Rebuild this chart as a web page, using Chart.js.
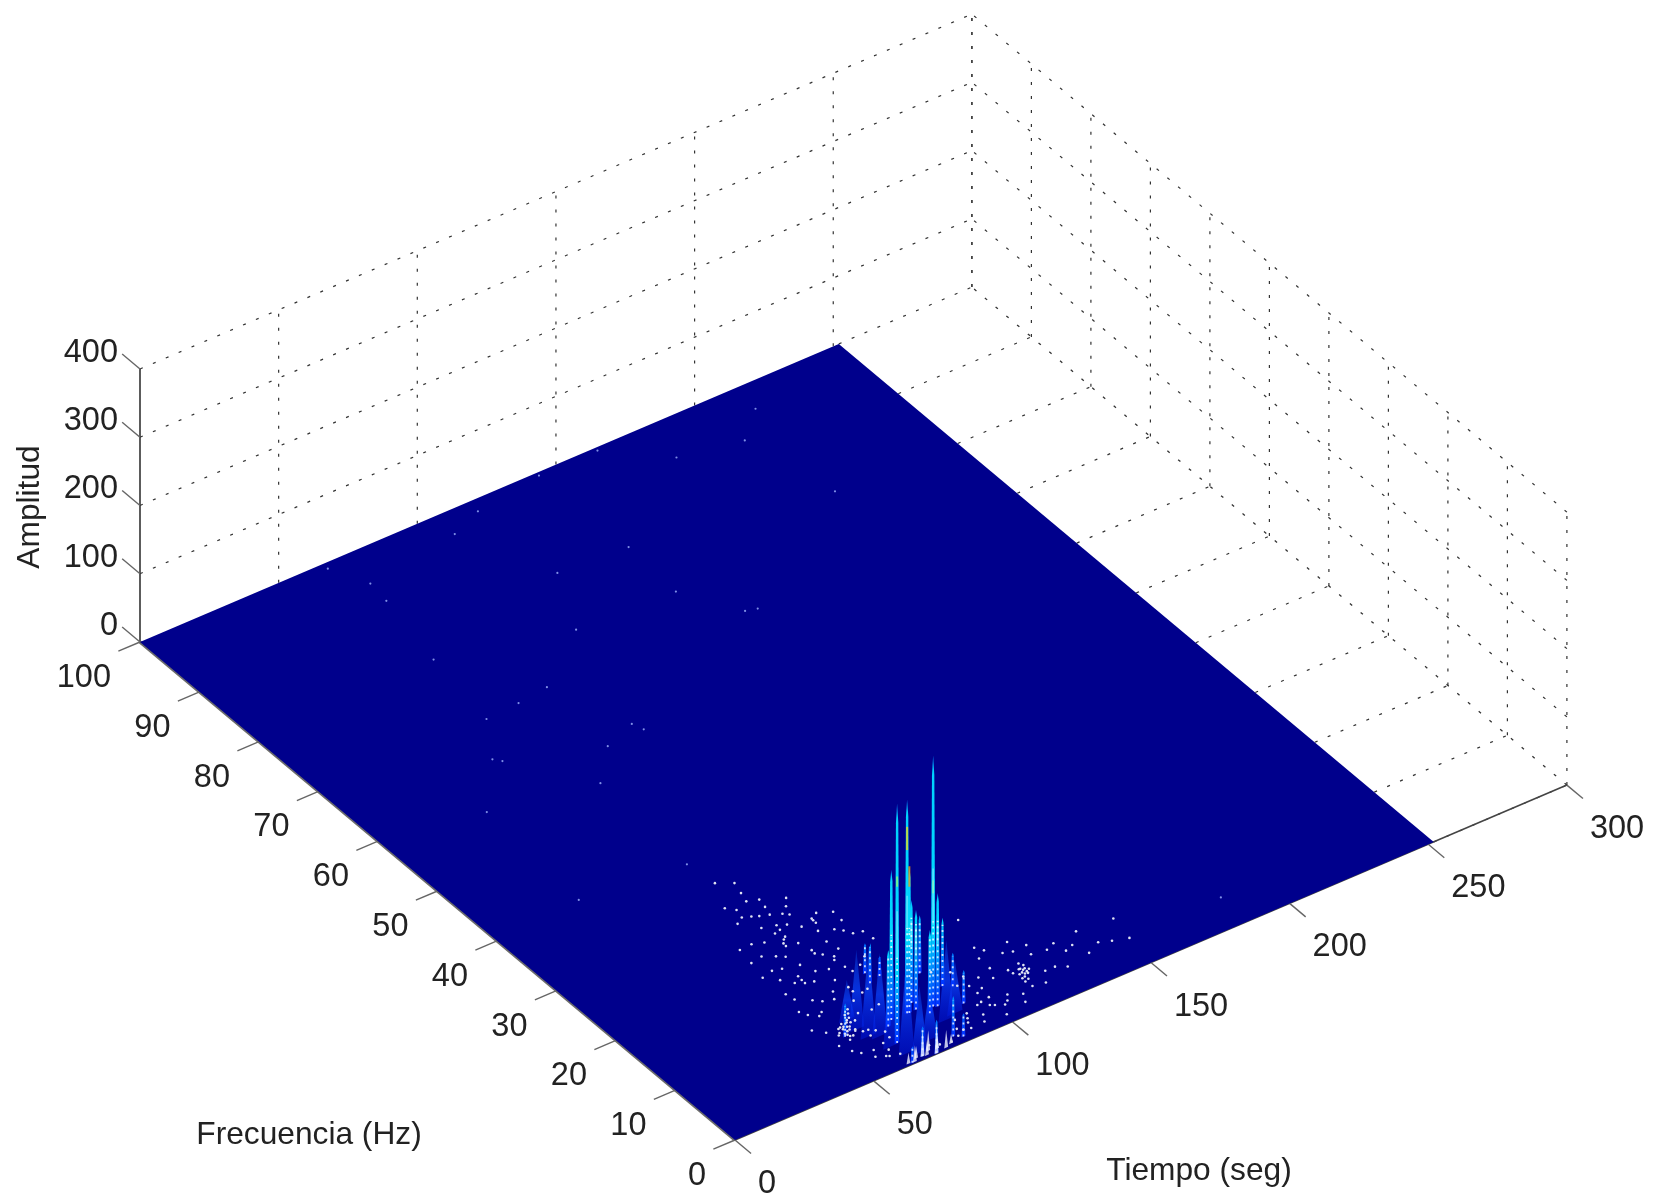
<!DOCTYPE html>
<html>
<head>
<meta charset="utf-8">
<title>Amplitud</title>
<script src="https://cdn.jsdelivr.net/npm/chart.js@4"></script>
<style>
  html, body { margin: 0; background: #fff; }
  canvas { display: block; filter: blur(0.45px); }
</style>
</head>
<body>
<canvas id="surf" width="1657" height="1198"></canvas>
<script>
// ticks
const tiempoTicks = [0, 50, 100, 150, 200, 250, 300];
const frecuenciaTicks = [0, 10, 20, 30, 40, 50, 60, 70, 80, 90, 100];
const amplitudTicks = [0, 100, 200, 300, 400];
const tituloAmplitud = "Amplitud";
const tituloFrecuencia = "Frecuencia (Hz)";
const tituloTiempo = "Tiempo (seg)";

// the measured surface stops here, the axis goes on to 300
const tiempoFin = 252;

// tall peaks, far ones first
const picoT = [78.6, 77.0, 81.3, 91.7, 93.5, 95.9, 81.2, 80.5, 77.3, 77.9, 71.6, 69.0, 85.4, 86.6, 82.7, 93.6, 55.8, 66.4, 81.7, 84.1, 72.9, 68.7, 64.4];
const picoF = [14.8, 13.2, 13.6, 11.7, 8.7, 8.1, 8.2, 7.1, 7.1, 7.0, 7.1, 6.4, 6.5, 6.3, 5.8, 5.2, 7.5, 3.7, 1.4, 0.8, 0.1, 0.5, 0.2];
const picoAmp = [44, 59, 29, 85, 100, 49, 151, 146, 313, 215, 220, 112, 368, 166, 122, 49, 49, 351, 59, 34, 49, 44, 24];

// small white heaps at the front edge
const monteT = [63.2, 65.3, 66.6, 68.7, 70.1, 71.6, 72.9, 74.4, 76.8, 79.2];
const monteF = [0.3, 0.2, 0.6, 0.5, 0.4, 0.9, 0.1, 0.7, 0.3, 0.6];
const monteAmp = [16, 24, 18, 40, 22, 30, 44, 20, 26, 14];

// low blue ridges around the foot of the peaks
const lomoT = [60.9, 60.5, 61.4, 64.2, 64.0, 65.7, 68.9, 75.1, 84.8, 88.7];
const lomoF = [9.6, 7.8, 6.2, 5.6, 3.6, 1.8, 1.1, 2.3, 4.0, 4.4];
const lomoAmp = [59, 117, 132, 122, 161, 146, 98, 78, 117, 78];

// warmer patches on the peaks
const calorT = [77.3, 66.4, 85.4, 77.9];
const calorF = [7.1, 3.7, 6.5, 7.0];
const calorDesde = [239, 229, 166, 185];
const calorHasta = [273, 244, 185, 215];
const calorNivel = [0.66, 0.52, 0.48, 0.72];

// white mesh specks around the peaks
const motaT = [63.7, 66, 68.5, 73.2, 71.9, 74.4, 67.7, 69.7, 72.6, 78.9, 81.3, 66.8, 68.5, 70, 67.5, 76.8, 81.4, 88.6, 88.2, 55.4, 54.4, 52.9, 56.4, 53.7, 59.1, 65.5, 61.6, 72.5, 73.9, 72.3, 78.5, 54.3, 53.1, 55.5, 60.5, 69.5, 65.8, 75.7, 76.3, 87.2, 90.1, 90.6, 58.2, 55.5, 60.9, 58.9, 64.2, 65.6, 61.6, 63.3, 58.8, 63.1, 55,
  112, 109.9, 117.3, 120.2, 117.4, 118.8, 115.9, 123.7, 115, 106.6, 99.9, 99.4, 93.4, 132.2, 141, 125.9, 129, 138, 153.6, 151.9, 116.1, 99.9, 101.2, 91.5, 86.8, 86, 114,
  70.7, 67.7, 68.9, 81.5, 81.3, 61.8, 61.5, 60.2, 59.1, 57.4, 56.6, 61.9, 62.8, 57.2, 56.1, 59.9, 62.2, 64.9, 66.8, 71.2, 75.1, 70.6, 74.8, 79.9, 83.4, 116.5, 117.9, 116.8, 118.1, 114.8, 113.7, 104.9, 101.4, 100.6, 98.2, 103.2, 96.4, 95.1, 89.2, 88.4, 90.3, 84.7, 83.1, 73.4, 76.2, 79.8, 62.5, 60.1, 64.1,
  58.5, 57.2, 59.8, 61.2, 56.4, 57.9, 60.3, 62.1, 63.1, 54.6, 56.9, 58.1, 117.0, 118.2, 116.4, 117.7, 119.1, 115.3, 116.1, 114.6,
  62.3, 65.1, 70.8, 73.7, 75.9, 71.2, 73.9, 77.4, 79.5, 83.9, 85.7, 84.2, 79.3, 76.1, 71.3, 64.4, 62.2, 58.7, 59.8, 63.4, 57.1, 60.1, 67.4, 64.2, 70.7, 72.5, 68.1, 63.9, 58.4, 57.2, 51.8, 49.6, 52.4, 51.7, 53.4, 57.3, 60.9, 66.2, 69.9, 73.1,
  110.1, 113.6, 121.5, 125.2, 128.8, 133.1, 136.2, 143.2, 146.9, 122.4, 119.2, 110.6, 107.9, 104.5, 102.3, 108.8, 100.8, 97.1, 94.7, 99.3];
const motaF = [31.4, 30.5, 35.3, 34.2, 32.5, 30.6, 28.8, 28.4, 28, 28.2, 29.3, 26.7, 25.2, 24.2, 22.9, 24.6, 24.8, 24.8, 23.2, 25, 22.6, 20, 18.7, 16.5, 17.5, 19.6, 17.5, 20.9, 19.7, 20.3, 21.2, 15.3, 12.5, 11.7, 13.5, 15.6, 14.2, 16.8, 15.8, 20.8, 20.5, 19, 8.9, 8.3, 9.6, 8.2, 11, 9.9, 7.2, 7.1, 4.1, 4.5, 4.4,
  12, 8.4, 9.7, 9.3, 6.3, 6.9, 5.3, 7.9, 3.6, 3.9, 5.8, 3.5, 1.6, 8.1, 8.4, 4.9, 4.2, 4.8, 8, 4.5, 16.6, 7.2, 8.8, 3.7, 3.5, 1.7, 6.4,
  25.4, 23.4, 23.9, 25.1, 24.3, 18.2, 16.9, 9.3, 8.7, 8.6, 7.9, 10.4, 9.1, 7.3, 6.8, 7.7, 6.2, 6.6, 5.9, 17.4, 18.3, 13.1, 12.6, 16.2, 17.1, 6.6, 5.9, 5.7, 7.4, 5.2, 7.1, 3.1, 4.6, 3.2, 4.4, 2.7, 4.2, 2.6, 2.4, 1.5, 3.0, 2.2, 1.2, 1.6, 1.1, 0.8, 3.3, 2.6, 2.1,
  9.4, 9.0, 8.6, 9.1, 8.9, 8.1, 7.9, 9.8, 10.4, 8.0, 7.6, 7.2, 6.6, 6.4, 6.0, 5.6, 6.1, 5.9, 4.8, 4.6,
  28.6, 29.2, 31.1, 29.3, 27.4, 26.2, 25.7, 26.9, 23.1, 22.4, 21.7, 25.6, 19.6, 18.8, 22.6, 21.5, 22.1, 22.9, 25.1, 24.6, 20.4, 20.1, 17.9, 16.6, 13.9, 12.4, 11.8, 13.1, 14.2, 12.1, 13.4, 10.2, 9.1, 6.6, 5.2, 3.1, 2.4, 4.9, 9.6, 9.9,
  10.3, 11.1, 10.9, 9.4, 7.6, 6.4, 6.8, 5.7, 5.1, 4.9, 3.3, 3.1, 6.9, 7.8, 6.2, 1.9, 1.3, 7.9, 11.2, 10.1];

// faint isolated dots on the rest of the sheet
const puntoT = [65.8, 71.7, 70.6, 142.8, 119.4, 143.8, 107.7, 65.1, 60.8, 73, 50.7, 82, 69.7, 31.2, 34.3, 153.4, 157.1, 213.6, 202, 180.8, 185.3, 67.2, 84.3, 94.1, 95.4, 52.6, 106, 118, 163.9, 209, 142.4];
const puntoF = [99.1, 94.7, 91.5, 99.5, 85.5, 84.9, 76.9, 81, 70.1, 70.4, 64.4, 59.6, 55.1, 40.8, 57.7, 69.8, 69.4, 96.1, 92.5, 94.1, 4.7, 39.4, 70.9, 61.2, 59.8, 63.6, 96.5, 98.2, 99.5, 80.6, 76.3];

// view of the 3d box on the page
const origen = { x: 735, y: 1140 };
const ejeT = { x: 2.773, y: -1.183 };
const ejeF = { x: -5.95, y: -4.98 };
const ejeZ = -0.6825;

function proy(t, f, z) {
  return {
    x: origen.x + t * ejeT.x + f * ejeF.x,
    y: origen.y + t * ejeT.y + f * ejeF.y + z * ejeZ
  };
}

function jet(v, a) {
  const c = n => Math.round(255 * Math.max(0, Math.min(1, n)));
  return `rgba(${c(Math.min(4 * v - 1.5, -4 * v + 4.5))},${c(Math.min(4 * v - 0.5, -4 * v + 3.5))},${c(Math.min(4 * v + 0.5, -4 * v + 2.5))},${a === undefined ? 1 : a})`;
}

const datasets = [];

function linea(puntos, color, ancho, dash) {
  datasets.push({
    data: puntos,
    showLine: true,
    borderColor: color,
    borderWidth: ancho,
    borderDash: dash || [],
    pointRadius: 0,
    fill: false
  });
}

function forma(puntos, color) {
  datasets.push({
    data: puntos,
    showLine: true,
    borderWidth: 0,
    backgroundColor: color,
    pointRadius: 0,
    fill: "shape"
  });
}

// vertical gradient between two heights of a peak, null-safe for the first pass
function degradado(t, f, amp, paradas) {
  return ctx => {
    const sy = ctx.chart.scales.y;
    const y0 = sy ? sy.getPixelForValue(proy(t, f, 0).y) : NaN;
    const y1 = sy ? sy.getPixelForValue(proy(t, f, amp).y) : NaN;
    if (!isFinite(y0) || !isFinite(y1)) return paradas[0][1];
    const g = ctx.chart.ctx.createLinearGradient(0, y0, 0, y1);
    paradas.forEach(p => g.addColorStop(p[0], p[1]));
    return g;
  };
}

// grid on floor and back walls, the floor only shows past the sheet
const puntos = [3, 11];
const gris = "#333";
tiempoTicks.forEach(t => {
  linea([proy(t, 100, 0), proy(t, 100, 400)], t === 0 ? "#333" : gris, t === 0 ? 1.6 : 1.2, t === 0 ? [] : puntos);
});
linea([proy(300, 0, 0), proy(300, 100, 0)], gris, 1.3, puntos);
frecuenciaTicks.forEach(f => {
  linea([proy(300, f, 0), proy(300, f, 400)], gris, 1.2, puntos);
  linea([proy(tiempoFin, f, 0), proy(300, f, 0)], gris, 1.2, puntos);
});
amplitudTicks.forEach(z => {
  if (z > 0) linea([proy(0, 100, z), proy(300, 100, z)], gris, 1.2, puntos);
  if (z > 0) linea([proy(300, 0, z), proy(300, 100, z)], gris, 1.2, puntos);
});

// axis lines and tick marks
linea([proy(0, 100, 0), proy(0, 0, 0)], "#6b6b6b", 3.5);
linea([proy(0, 0, 0), proy(300, 0, 0)], "#444", 1.6);
tiempoTicks.forEach(t => linea([proy(t, 0, 0), proy(t, -2.7, 0)], "#666", 1.4));
frecuenciaTicks.forEach(f => linea([proy(0, f, 0), proy(-7.8, f, 0)], "#666", 1.4));
amplitudTicks.forEach(z => linea([proy(0, 100, z), proy(0, 103, z)], "#666", 1.4));

// flat sheet of the surface
forma([proy(0, 0, 0), proy(tiempoFin, 0, 0), proy(tiempoFin, 100, 0), proy(0, 100, 0)], "#00008c");

// faint dots
datasets.push({
  data: puntoT.map((t, i) => proy(t, puntoF[i], 0)),
  pointRadius: 1.1,
  pointBorderWidth: 0,
  pointBackgroundColor: "#7f8fe6"
});

// blue ridges, they fade out upwards
lomoT.forEach((t, i) => {
  const f = lomoF[i], amp = lomoAmp[i];
  forma([proy(t - 2.8, f, 0), proy(t, f, amp), proy(t + 2.8, f, 0)],
    degradado(t, f, amp, [[0, "rgba(0,30,230,0.45)"], [0.5, "rgba(10,70,255,0.7)"], [1, "rgba(10,90,255,0.3)"]]));
});

// peaks, colour runs up the jet map with height
picoT.forEach((t, i) => {
  const f = picoF[i], amp = picoAmp[i];
  const w = amp > 100 ? 0.85 : 0.7;
  const tope = jet(Math.min(0.34, 0.17 + 0.17 * amp / 110));
  const paradas = [[0, jet(0.17)], [Math.min(1, 110 / amp), tope], [0.94, amp > 110 ? jet(0.33) : tope], [1, jet(0.26)]];
  forma([
    proy(t - w, f, 0),
    proy(t - w * 0.5, f, amp * 0.92),
    proy(t, f, amp),
    proy(t + w * 0.5, f, amp * 0.92),
    proy(t + w, f, 0)
  ], degradado(t, f, amp, paradas));
});

// warm patches
calorT.forEach((t, i) => {
  linea([proy(t, calorF[i], calorDesde[i]), proy(t, calorF[i], calorHasta[i])], jet(calorNivel[i], 0.72), 2);
});

// pale core higher up on the tall peaks
picoT.forEach((t, i) => {
  if (picoAmp[i] > 140) {
    linea([proy(t, picoF[i], 120), proy(t, picoF[i], picoAmp[i] * 0.55)], "rgba(180,240,255,0.5)", 1.5);
  }
});

// white mesh along the foot of each peak
picoT.forEach((t, i) => {
  linea([proy(t, picoF[i], 0), proy(t, picoF[i], Math.min(125, picoAmp[i] * 0.9))], "rgba(255,255,255,0.78)", 1.8, [2, 4]);
});

// little heaps right at the front edge
monteT.forEach((t, i) => {
  forma([proy(t - 0.7, monteF[i], 0), proy(t, monteF[i], monteAmp[i]), proy(t + 0.7, monteF[i], 0)], "rgba(240,242,255,0.8)");
});

// white specks
datasets.push({
  data: motaT.map((t, i) => proy(t, motaF[i], 0)),
  pointRadius: 1.3,
  pointBorderWidth: 0,
  pointBackgroundColor: "#dfe2f2"
});

// first drawn gets the highest order
datasets.forEach((d, i) => { d.order = datasets.length - i; });

const etiquetas = {
  id: "etiquetas",
  afterDraw(chart) {
    const { ctx } = chart;
    const sx = chart.scales.x, sy = chart.scales.y;
    const px = p => ({ x: sx.getPixelForValue(p.x), y: sy.getPixelForValue(p.y) });
    const texto = (s, x, y, align) => {
      ctx.textAlign = align;
      ctx.fillText(s, x, y);
    };
    ctx.save();
    ctx.fillStyle = "#222";
    ctx.font = '32.5px "Liberation Sans", Arial, sans-serif';
    ctx.textBaseline = "middle";
    amplitudTicks.forEach(z => {
      const p = px(proy(0, 100, z));
      texto(String(z), p.x - 22, p.y - 16, "right");
    });
    frecuenciaTicks.forEach(f => {
      const p = px(proy(0, f, 0));
      texto(String(f), p.x - 29, p.y + 36, "right");
    });
    tiempoTicks.forEach(t => {
      const p = px(proy(t, 0, 0));
      texto(String(t), p.x + 23, p.y + 44, "left");
    });
    ctx.font = '31.7px "Liberation Sans", Arial, sans-serif';
    texto(tituloFrecuencia, 309, 1135, "center");
    texto(tituloTiempo, 1199, 1171, "center");
    ctx.translate(30, 507);
    ctx.rotate(-Math.PI / 2);
    texto(tituloAmplitud, 0, 0, "center");
    ctx.restore();
  }
};

new Chart(document.getElementById("surf"), {
  type: "scatter",
  data: { datasets },
  options: {
    responsive: false,
    animation: false,
    layout: { padding: 0, autoPadding: false },
    plugins: { legend: { display: false }, tooltip: { enabled: false } },
    scales: {
      x: { type: "linear", min: 0, max: 1657, display: false },
      y: { type: "linear", min: 0, max: 1198, reverse: true, display: false }
    }
  },
  plugins: [etiquetas]
});
</script>
</body>
</html>
